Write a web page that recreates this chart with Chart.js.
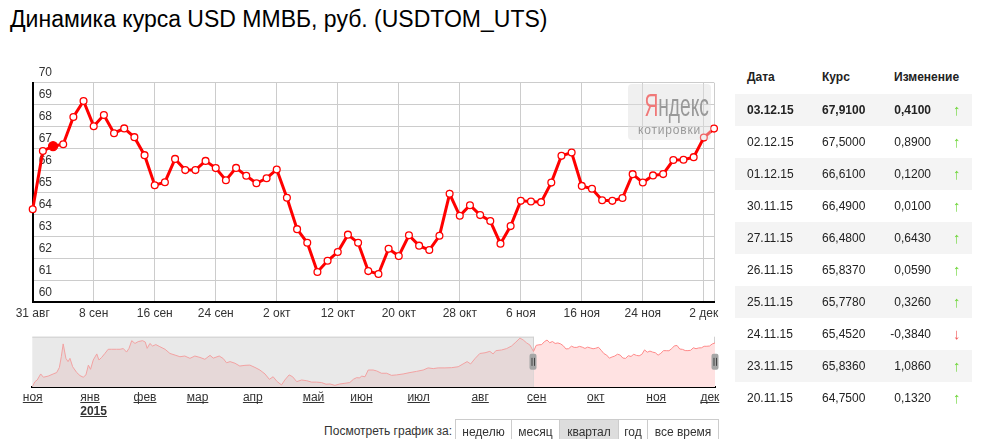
<!DOCTYPE html>
<html>
<head>
<meta charset="utf-8">
<script src="https://cdn.jsdelivr.net/npm/chart.js@4.4.1/dist/chart.umd.min.js"></script>
<style>
  body { margin: 0; background: #fff; font-family: Arial, "Liberation Sans", sans-serif; color: #333; }
  #title { position: absolute; left: 10px; top: 6px; font-size: 23px; color: #000; white-space: nowrap; }
  #mainWrap { position: absolute; left: 0; top: 60px; width: 730px; height: 270px; }
  #navWrap { position: absolute; left: 0; top: 330px; width: 730px; height: 90px; }
  #logo { position: absolute; left: 628px; top: 84px; width: 83px; height: 56px; background: rgba(222,222,222,0.45); border-radius: 4px; }
  #logo .ya { position: absolute; left: 0; top: 3px; width: 83px; text-align: center; font-size: 32px; color: #999; transform: scaleX(0.6); transform-origin: 41px 0; white-space: nowrap; }
  #logo .ya b { font-weight: normal; color: #f07878; }
  #logo .kt { position: absolute; left: 0; top: 39px; width: 83px; text-align: center; font-size: 12px; letter-spacing: 0.8px; color: #999; }
  #rates { position: absolute; left: 735px; top: 60px; width: 237px; font-size: 12px; color: #222; }
  #rates .row { position: absolute; left: 0; width: 237px; height: 32px; line-height: 32px; }
  #rates .row span { position: absolute; white-space: nowrap; }
  #rates .hd { font-weight: bold; }
  #rates .odd { background: #f4f4f4; }
  #rates .c1 { left: 12px; }
  #rates .c2 { left: 87px; }
  #rates .c3 { right: 41px; }
  #rates .c4 { left: 218px; font-size: 15px; font-weight: normal; }
  #rates .up { color: #6fd63a; }
  #rates .dn { color: #f25a5a; }
  #plabel { position: absolute; left: 250px; top: 424px; width: 202px; text-align: right; font-size: 12px; color: #333; }
  #periods { position: absolute; left: 455px; top: 419px; height: 26px; display: flex; border: 1px solid #ccc; }
  #periods span { display: block; height: 26px; text-align: center; font-size: 12px; line-height: 24px; border-left: 1px solid #ccc; color: #333; }
  #periods span:first-child { border-left: none; }
  #periods span.on { background: #ddd; }
</style>
</head>
<body>
<div id="title">Динамика курса USD ММВБ, руб. (USDTOM_UTS)</div>
<div id="mainWrap"><canvas id="main"></canvas></div>
<div id="logo"><div class="ya"><b>Я</b>ндекс</div><div class="kt">котировки</div></div>
<div id="navWrap"><canvas id="nav"></canvas></div>
<div id="rates"></div>
<div id="plabel">Посмотреть график за:</div>
<div id="periods"></div>
<script>
// main chart: trading days 31.08.2015 - 03.12.2015
var dates = ['31.08','01.09','02.09','03.09','04.09','07.09','08.09','09.09','10.09','11.09',
             '14.09','15.09','16.09','17.09','18.09','21.09','22.09','23.09','24.09','25.09',
             '28.09','29.09','30.09','01.10','02.10','05.10','06.10','07.10','08.10','09.10',
             '12.10','13.10','14.10','15.10','16.10','19.10','20.10','21.10','22.10','23.10',
             '26.10','27.10','28.10','29.10','30.10','02.11','03.11','05.11','06.11','09.11',
             '10.11','11.11','12.11','13.11','16.11','17.11','18.11','19.11','20.11','23.11',
             '24.11','25.11','26.11','27.11','30.11','01.12','02.12','03.12'];
var rates = [64.24, 66.89, 67.11, 67.20, 68.44, 69.17, 68.02, 68.53, 67.70, 67.92,
             67.52, 66.70, 65.33, 65.47, 66.53, 66.02, 66.02, 66.44, 66.11, 65.56,
             66.12, 65.76, 65.42, 65.65, 66.05, 64.76, 63.33, 62.71, 61.38, 61.89,
             62.29, 63.08, 62.71, 61.42, 61.29, 62.44, 62.11, 63.05, 62.58, 62.38,
             63.03, 64.94, 63.94, 64.42, 63.97, 63.70, 62.67, 63.47, 64.62, 64.59,
             64.56, 65.45, 66.67, 66.82, 65.30, 65.17, 64.65, 64.62, 64.75, 65.836,
             65.452, 65.778, 65.837, 66.48, 66.49, 66.61, 67.50, 67.91];
var xTickLabels = ['31 авг','8 сен','16 сен','24 сен','2 окт','12 окт','20 окт','28 окт','6 ноя','16 ноя','24 ноя','2 дек'];
var xTickEvery = 6;
var hoverIndex = 2;

// navigator: earlier year (trading-day index, value)
var navIdx = [0, 1, 1.8, 3.1, 4.1, 5.9, 7.7, 9, 10, 10.7,
              11.4, 12.4, 13.2, 13.9, 14.9, 16.4, 17.6, 18.8, 19.8, 20.7,
              21.5, 22.5, 23.8, 24.6, 25.6, 26.8, 28, 29.3, 31.1, 32.4,
              33.6, 34.8, 35.7, 36.7, 37.9, 39.1, 40.7, 41.7, 42.4, 43.4,
              44.4, 45.6, 47.1, 49, 50.8, 52.7, 54.5, 56.3, 58.2, 60,
              61.9, 63.7, 65.6, 66.8, 69, 70.5, 71.7, 73, 74.8, 76.6,
              78.5, 80.3, 82.2, 84, 85.9, 87.5, 88.9, 90.4, 92, 93.2,
              94.8, 96.1, 97.6, 99.4, 101.3, 103.1, 104.9, 106.8, 108.4, 109.9,
              111.7, 113.5, 115.4, 117.2, 118.5, 119.7, 120.9, 121.5, 122.8, 124,
              125.8, 127.1, 128.9, 130.8, 132.6, 134.5, 136.9, 139.4, 141.8, 144.3,
              146.1, 148, 149.8, 152.3, 154.8, 157.2, 159, 160.5, 161.8, 163.4,
              165.2, 167.1, 168.9, 170.1, 171.1, 173.2, 175.1, 176.9, 178.5, 180,
              181.2, 182.4, 183.7];
var navVal = [49.2, 51.3, 52.0, 54.6, 53.2, 53.7, 54.6, 55.2, 57.4, 62.0,
              67.5, 61.3, 59.9, 61.3, 57.7, 55.2, 53.9, 53.2, 54.2, 58.4,
              56.6, 60.6, 63.2, 60.6, 61.7, 63.4, 65.2, 65.2, 65.2, 65.2,
              65.5, 64.0, 65.6, 68.9, 67.7, 68.5, 68.9, 68.3, 65.6, 67.7,
              66.6, 67.2, 66.3, 65.2, 63.4, 62.7, 62.0, 62.3, 61.3, 62.3,
              61.7, 60.9, 62.6, 61.4, 62.3, 61.2, 59.4, 59.9, 59.2, 58.0,
              58.3, 58.4, 57.4, 56.3, 54.6, 52.3, 53.4, 51.3, 49.9, 52.0,
              54.2, 53.4, 51.3, 52.0, 51.7, 51.1, 51.1, 50.9, 50.2, 50.3,
              49.7, 50.3, 50.6, 50.9, 52.3, 53.0, 52.9, 53.7, 53.4, 56.3,
              56.3, 55.9, 54.9, 54.9, 54.0, 54.2, 54.6, 55.2, 55.7, 56.3,
              57.2, 56.9, 57.2, 57.2, 57.3, 57.7, 58.9, 59.9, 58.9, 61.2,
              63.4, 63.7, 64.3, 63.2, 64.6, 64.9, 65.5, 66.6, 68.3, 70.0,
              69.2, 68.0, 67.0];
var navSelStart = 185;
var navTickPos = [0.15, 21.3, 41.6, 61, 81.4, 103.8, 121.5, 142.6, 165.3, 186.2, 208, 230.3, 250.1];
var navTickLabels = ['ноя','янв','фев','мар','апр','май','июн','июл','авг','сен','окт','ноя','дек'];
var navYearLabel = '2015';
var navYearAt = 1;

// table
var tableHead = ['Дата', 'Курс', 'Изменение'];
var tableDates = ['03.12.15','02.12.15','01.12.15','30.11.15','27.11.15','26.11.15','25.11.15','24.11.15','23.11.15','20.11.15'];
var tableRates = ['67,9100','67,5000','66,6100','66,4900','66,4800','65,8370','65,7780','65,4520','65,8360','64,7500'];
var tableChanges = ['0,4100','0,8900','0,1200','0,0100','0,6430','0,0590','0,3260','-0,3840','1,0860','0,1320'];

var periods = ['неделю', 'месяц', 'квартал', 'год', 'все время'];
var periodWidths = [55, 47, 58, 28, 70];
var periodActive = 2;

var FONT = 'Arial, "Liberation Sans", sans-serif';

// ---- main chart
new Chart(document.getElementById('main'), {
  type: 'line',
  data: {
    labels: dates,
    datasets: [{
      data: rates,
      borderColor: '#ff0000',
      borderWidth: 3,
      tension: 0,
      pointRadius: function(c) { return c.dataIndex === hoverIndex ? 4.5 : 3.4; },
      pointBackgroundColor: function(c) { return c.dataIndex === hoverIndex ? '#ff0000' : '#ffffff'; },
      pointBorderColor: '#ff0000',
      pointBorderWidth: 1.3
    }]
  },
  options: {
    responsive: true,
    maintainAspectRatio: false,
    animation: false,
    devicePixelRatio: 1,
    layout: { padding: { left: 32.7, top: 22.7, right: 16, bottom: 0 } },
    plugins: { legend: { display: false }, tooltip: { enabled: false } },
    scales: {
      x: {
        type: 'category',
        offset: false,
        grid: {
          drawTicks: false,
          color: function(c) {
            return (c.index % xTickEvery === 0 || c.index === dates.length - 1) ? '#cccccc' : 'rgba(0,0,0,0)';
          }
        },
        border: { color: '#000', width: 2 },
        ticks: {
          autoSkip: false, maxRotation: 0, padding: 4, color: '#333',
          font: { family: FONT, size: 12 },
          callback: function(v, i) { return i % xTickEvery === 0 ? xTickLabels[i / xTickEvery] : ''; }
        },
        afterFit: function(s) { s.height = 27.7; }
      },
      y: {
        min: 60, max: 70,
        grid: { color: '#cccccc', drawTicks: false },
        border: { color: '#000', width: 2 },
        ticks: { stepSize: 1, mirror: true, padding: 6, labelOffset: -10, color: '#333', font: { family: FONT, size: 12 } },
        afterFit: function(s) { s.width = 0; }
      }
    }
  }
});

// ---- navigator
var navLeft = navIdx.map(function(x, i) { return { x: x, y: navVal[i] }; });
var navRight = rates.map(function(v, i) { return { x: navSelStart + i, y: v }; });
navLeft.push(navRight[0]);
var navEnd = navSelStart + rates.length - 1;

var navDecor = {
  id: 'navDecor',
  beforeDatasetsDraw: function(chart) {
    var ctx = chart.ctx, a = chart.chartArea, x = chart.scales.x;
    var xs = x.getPixelForValue(navSelStart), xe = x.getPixelForValue(navEnd);
    ctx.save();
    ctx.fillStyle = '#e9e9e9';
    ctx.fillRect(a.left, a.top, xs - a.left, a.bottom - a.top);
    ctx.strokeStyle = '#d0d0d0';
    ctx.lineWidth = 1;
    ctx.beginPath();
    ctx.moveTo(a.left, a.top + 0.5); ctx.lineTo(xs, a.top + 0.5);
    ctx.moveTo(Math.round(xs) + 0.5, a.top); ctx.lineTo(Math.round(xs) + 0.5, a.bottom);
    ctx.moveTo(Math.round(xe) - 0.5, a.top); ctx.lineTo(Math.round(xe) - 0.5, a.bottom);
    ctx.stroke();
    ctx.restore();
  },
  afterDraw: function(chart) {
    var ctx = chart.ctx, a = chart.chartArea, x = chart.scales.x;
    var cy = (a.top + a.bottom) / 2;
    ctx.save();
    // handles
    [navSelStart, navEnd].forEach(function(v) {
      var px = Math.round(x.getPixelForValue(v));
      ctx.fillStyle = '#a6a6a6';
      ctx.beginPath();
      ctx.roundRect(px - 3.5, cy - 8, 7, 16, 2);
      ctx.fill();
      ctx.strokeStyle = '#444';
      ctx.lineWidth = 1;
      ctx.beginPath();
      ctx.moveTo(px - 1, cy - 4); ctx.lineTo(px - 1, cy + 4);
      ctx.moveTo(px + 1.5, cy - 4); ctx.lineTo(px + 1.5, cy + 4);
      ctx.stroke();
    });
    // month labels
    ctx.font = '12px ' + FONT;
    ctx.fillStyle = '#333';
    ctx.strokeStyle = '#333';
    ctx.textAlign = 'center';
    ctx.textBaseline = 'alphabetic';
    var by = a.bottom + 14;
    navTickPos.forEach(function(v, i) {
      var px = x.getPixelForValue(v);
      var w = ctx.measureText(navTickLabels[i]).width;
      ctx.fillText(navTickLabels[i], px, by);
      ctx.beginPath();
      ctx.moveTo(px - w / 2, by + 1.5); ctx.lineTo(px + w / 2, by + 1.5);
      ctx.stroke();
      if (i === navYearAt) {
        ctx.save();
        ctx.font = 'bold 12px ' + FONT;
        ctx.textAlign = 'left';
        var yw = ctx.measureText(navYearLabel).width;
        ctx.fillText(navYearLabel, px - w / 2, by + 14);
        ctx.beginPath();
        ctx.moveTo(px - w / 2, by + 15.5); ctx.lineTo(px - w / 2 + yw, by + 15.5);
        ctx.stroke();
        ctx.restore();
      }
    });
    ctx.restore();
  }
};

new Chart(document.getElementById('nav'), {
  type: 'line',
  data: {
    datasets: [
      { data: navLeft, borderColor: '#f2a2a2', borderWidth: 1, backgroundColor: '#e6d8d8', fill: 'start', pointRadius: 0, tension: 0 },
      { data: navRight, borderColor: '#ff8a8a', borderWidth: 1, backgroundColor: '#ffe2e2', fill: 'start', pointRadius: 0, tension: 0 }
    ]
  },
  options: {
    responsive: true,
    maintainAspectRatio: false,
    animation: false,
    devicePixelRatio: 1,
    layout: { padding: { left: 32.3, top: 6.7, right: 15, bottom: 0 } },
    plugins: { legend: { display: false }, tooltip: { enabled: false } },
    scales: {
      x: {
        type: 'linear', min: 0, max: navEnd,
        grid: { display: false },
        border: { color: '#000', width: 2 },
        ticks: { display: false },
        afterFit: function(s) { s.height = 33; }
      },
      y: { display: false, min: 49, max: 70.6 }
    }
  },
  plugins: [navDecor]
});

// ---- table
var tbl = document.getElementById('rates');
function addRow(top, cls, cells) {
  var r = document.createElement('div');
  r.className = 'row ' + cls;
  r.style.top = top + 'px';
  cells.forEach(function(c) {
    var s = document.createElement('span');
    s.className = c[0];
    s.textContent = c[1];
    r.appendChild(s);
  });
  tbl.appendChild(r);
}
addRow(1, 'hd', [['c1', tableHead[0]], ['c2', tableHead[1]], ['c2', tableHead[2]]]);
tbl.lastChild.lastChild.style.left = '159px';
tableDates.forEach(function(d, i) {
  var neg = tableChanges[i].charAt(0) === '-';
  addRow(34 + i * 32, (i % 2 === 0 ? 'odd' : '') + (i === 0 ? ' hd' : ''),
    [['c1', d], ['c2', tableRates[i]], ['c3', tableChanges[i]], ['c4 ' + (neg ? 'dn' : 'up'), neg ? '↓' : '↑']]);
});

// ---- period buttons
var pb = document.getElementById('periods');
periods.forEach(function(p, i) {
  var s = document.createElement('span');
  s.textContent = p;
  s.style.width = periodWidths[i] + 'px';
  if (i === periodActive) s.className = 'on';
  pb.appendChild(s);
});
</script>
</body>
</html>
